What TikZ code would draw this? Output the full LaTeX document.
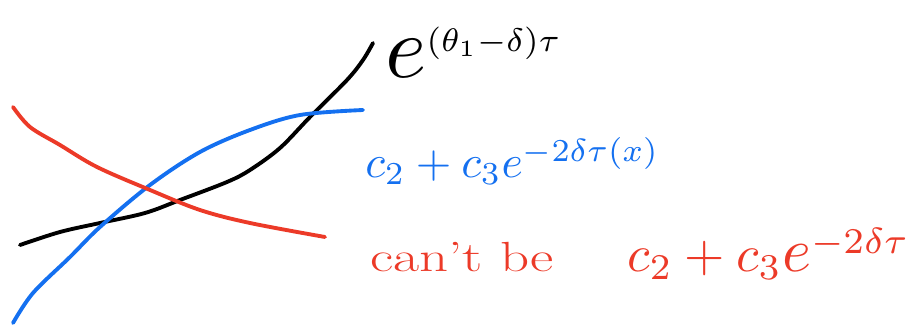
\documentclass[tikz,border=0pt]{standalone}
\usepackage{amsmath}
\usepackage{graphicx}
\usepackage{xcolor}
\usetikzlibrary{positioning}
\definecolor{penblue}{RGB}{20,112,240}
\definecolor{penred}{RGB}{236,58,40}

\begin{document}
\begin{tikzpicture}[
  x=0.02cm, y=-0.02cm,
  pen/.style={line width=2.2pt, line cap=round, line join=round},
  lbl/.style={anchor=base west, inner sep=0pt}
]
\useasboundingbox (0,0) rectangle (913,327);
% curves
\draw[pen, black] plot[smooth, tension=0.55] coordinates {
  (20,245) (60,232) (100,223) (145,213) (180,200) (227,182)
  (250,170) (280,148) (310,117) (347,80) (363,60) (373,43)};
\draw[pen, penblue] plot[smooth, tension=0.55] coordinates {
  (13,323) (33,293) (70,257) (100,227) (150,185) (200,152)
  (250,130) (300,115) (363,110)};
\draw[pen, penred] plot[smooth, tension=0.55] coordinates {
  (13,107) (30,127) (60,145) (97,167) (150,190) (200,210)
  (250,223) (325,237)};
% labels
\node[lbl, black] (growth) at (385,78)
  {\scalebox{2.65}{${\scalebox{1.9}{$e$}}^{(\theta_1-\delta)\tau}$}};
\node[lbl, penblue] (fit) at (365,178)
  {\scalebox{2.6}{$c_2+c_3e^{-2\delta\tau(x)}$}};
\node[lbl, penred, font={\fontsize{24}{28}\selectfont}] (cant) at (370,272)
  {\scalebox{1.35}[1]{can't be}};
\node[lbl, penred] (nofit) at (627,272)
  {\scalebox{2.95}{$c_2+c_3{\scalebox{1.2}{$e$}}^{-2\delta\tau}$}};
\end{tikzpicture}
\end{document}
